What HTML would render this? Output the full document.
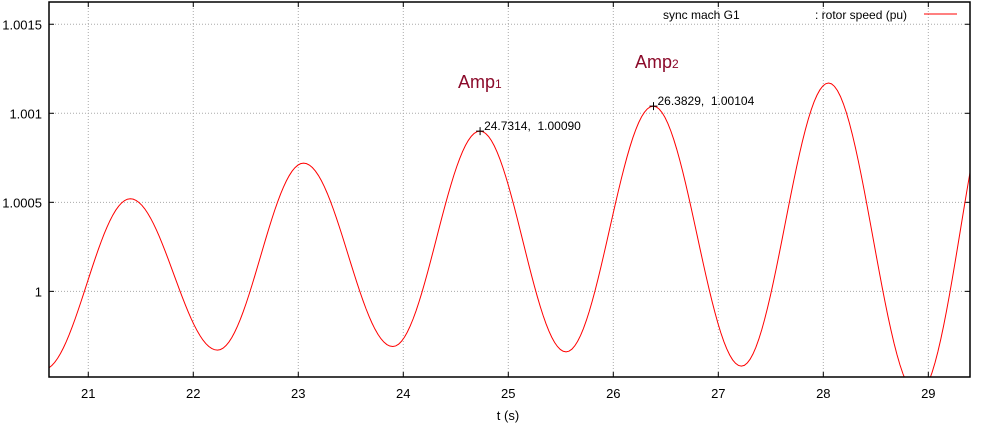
<!DOCTYPE html>
<html><head><meta charset="utf-8"><style>
body{margin:0;background:#fff;font-family:"Liberation Sans","DejaVu Sans",sans-serif;}
svg text{font-family:"Liberation Sans","DejaVu Sans",sans-serif;white-space:pre;}
</style></head><body>
<svg id="chart" width="982" height="428" xmlns="http://www.w3.org/2000/svg">
<g id="grid"></g>
<g id="ticks"></g>
<path id="curve" fill="none" stroke="#ff0000" stroke-width="1"/>
<rect x="49" y="2" width="921" height="375" fill="none" stroke="#000" stroke-width="1.5"/>
<text x="663" y="19" font-size="12">sync mach G1</text>
<text x="815" y="19" font-size="12">: rotor speed (pu)</text>
<line x1="924" y1="14" x2="957" y2="14" stroke="#ff0000"/>
<text x="508" y="420" font-size="13" text-anchor="middle">t (s)</text>
<text x="458" y="88" font-size="18" fill="#8b0a2a">Amp<tspan font-size="12">1</tspan></text>
<text x="635" y="68" font-size="18" fill="#8b0a2a">Amp<tspan font-size="12">2</tspan></text>
<g id="marks"></g>
</svg>
<script>
// extrema (peaks and troughs) of the rotor speed oscillation
const times=[20.57,21.40,22.23,23.05,23.90,24.73,25.55,26.38,27.22,28.05,28.90,29.72];
const values=[0.99956,1.00052,0.99967,1.00072,0.99969,1.00090,0.99966,1.00104,0.99958,1.00117,0.99942,1.00130];
const xTicks=[21,22,23,24,25,26,27,28,29];
const yTicks=[1,1.0005,1.001,1.0015];
const yTickLabels=["1","1.0005","1.001","1.0015"];
const markT=[24.7314,26.3829];
const markV=[1.00090,1.00104];
const markLabels=["24.7314,  1.00090","26.3829,  1.00104"];
const X0=49,X1=970,Y0=377,Y1=2,tMin=20.626,tMax=29.397,vMin=0.999519,vMax=1.001625;
const sx=t=>X0+(t-tMin)/(tMax-tMin)*(X1-X0);
const sy=v=>Y0-(v-vMin)/(vMax-vMin)*(Y0-Y1);
const NS="http://www.w3.org/2000/svg";
function mk(tag,attrs,parent,txt){const e=document.createElementNS(NS,tag);for(const k in attrs)e.setAttribute(k,attrs[k]);if(txt!==undefined)e.textContent=txt;parent.appendChild(e);return e;}
const grid=document.getElementById('grid'),ticks=document.getElementById('ticks');
xTicks.forEach(t=>{const x=sx(t);
 const g=mk('line',{x1:x,x2:x,y1:Y1,y2:Y0,stroke:'#aaa','stroke-dasharray':'1,2'},grid);
 
 
 mk('line',{x1:x,x2:x,y1:Y0,y2:Y0-5,stroke:'#000'},ticks);
 mk('line',{x1:x,x2:x,y1:Y1,y2:Y1+5,stroke:'#000'},ticks);
 const l=mk('text',{x:x,y:398,'font-size':13,'text-anchor':'middle'},ticks,String(t));
 
 
});
yTicks.forEach((v,i)=>{const y=sy(v);
 const g=mk('line',{x1:X0,x2:X1,y1:y,y2:y,stroke:'#aaa','stroke-dasharray':'1,2'},grid);
 
 
 mk('line',{x1:X0,x2:X0+5,y1:y,y2:y,stroke:'#000'},ticks);
 mk('line',{x1:X1,x2:X1-5,y1:y,y2:y,stroke:'#000'},ticks);
 const l=mk('text',{x:42,y:y+5,'font-size':13,'text-anchor':'end'},ticks,yTickLabels[i]);
 
 
});
// half-cosine interpolation between successive extrema
let d='';
for(let i=0;i<times.length-1;i++){
 const ta=times[i],tb=times[i+1],va=values[i],vb=values[i+1];
 for(let k=0;k<=30;k++){const f=k/30;const t=ta+(tb-ta)*f;const v=va+(vb-va)*(1-Math.cos(Math.PI*f))/2;
  d+=(d?'L':'M')+sx(t).toFixed(2)+','+sy(v).toFixed(2);}
}
const curve=document.getElementById('curve');curve.setAttribute('d',d);
const clip=mk('clipPath',{id:'pc'},document.getElementById('chart'));
mk('rect',{x:X0,y:Y1,width:X1-X0,height:Y0-Y1},clip);
curve.setAttribute('clip-path','url(#pc)');
const marks=document.getElementById('marks');
markT.forEach((t,i)=>{const x=sx(t),y=sy(markV[i]);
 const m=mk('path',{d:`M${x-4},${y}H${x+4}M${x},${y-4}V${y+4}`,stroke:'#000'},marks);
 
 
 const l=mk('text',{x:x+4,y:y-1,'font-size':12},marks,markLabels[i]);
 
 
});
</script>
</body></html>
